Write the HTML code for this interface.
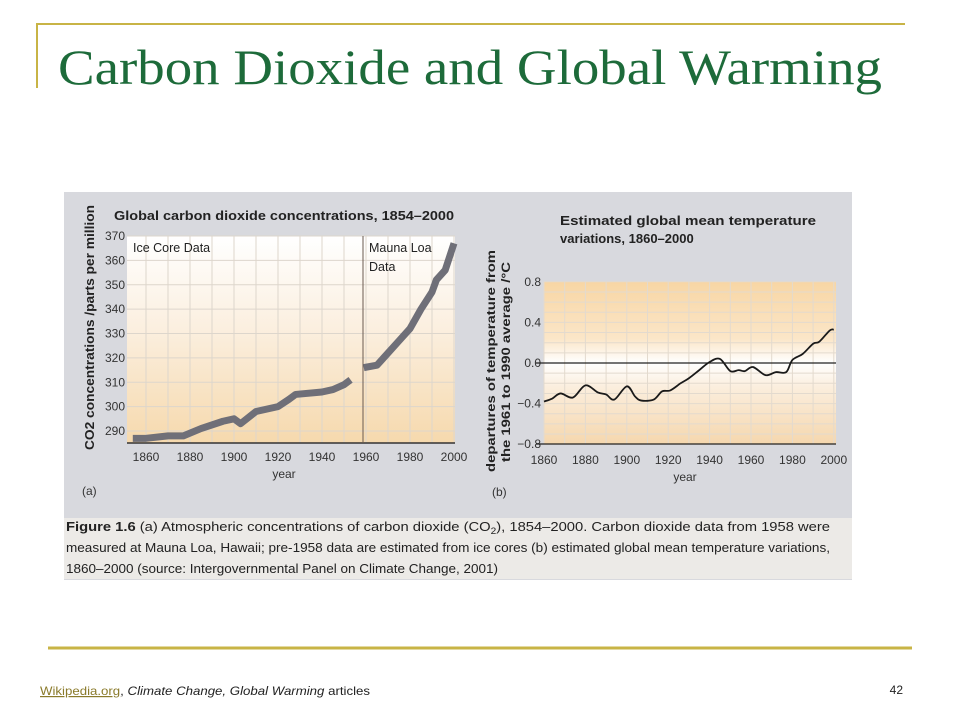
<!DOCTYPE html>
<html><head><meta charset="utf-8"><style>
html,body{margin:0;padding:0;background:#fff;width:960px;height:720px;overflow:hidden}
svg{display:block}
text{font-family:"Liberation Sans",sans-serif}
</style></head><body>
<svg id="s" width="960" height="720" viewBox="0 0 960 720" xmlns="http://www.w3.org/2000/svg">
<defs>
<linearGradient id="ga" x1="0" y1="0" x2="0" y2="1"><stop offset="0" stop-color="#ffffff"/><stop offset="0.45" stop-color="#fbefdf"/><stop offset="1" stop-color="#f6d9ad"/></linearGradient>
<linearGradient id="gb" x1="0" y1="0" x2="0" y2="1"><stop offset="0" stop-color="#f8d6a4"/><stop offset="0.35" stop-color="#fbe6c8"/><stop offset="0.5" stop-color="#ffffff"/><stop offset="0.65" stop-color="#fbeedd"/><stop offset="1" stop-color="#f5d7ae"/></linearGradient>
</defs>
<line x1="36" y1="24" x2="905" y2="24" stroke="#c8b446" stroke-width="2"/>
<line x1="37" y1="24" x2="37" y2="88" stroke="#c8b446" stroke-width="2"/>
<text x="58" y="84" font-size="50" fill="#1d6b3a" textLength="824" lengthAdjust="spacingAndGlyphs" style="font-family:'Liberation Serif',serif">Carbon Dioxide and Global Warming</text>
<rect x="64" y="192" width="788" height="388" fill="#d8d9de"/>
<rect x="64" y="518" width="788" height="61" fill="#eceae7"/>
<g id="ca"></g>
<g id="cb"></g>
<g font-size="13.2" fill="#222">
<text x="66" y="531" textLength="764" lengthAdjust="spacingAndGlyphs"><tspan font-weight="bold">Figure 1.6</tspan> (a) Atmospheric concentrations of carbon dioxide (CO<tspan font-size="9" dy="3">2</tspan><tspan dy="-3">), 1854–2000. Carbon dioxide data from 1958 were</tspan></text>
<text x="66" y="552" textLength="764" lengthAdjust="spacingAndGlyphs">measured at Mauna Loa, Hawaii; pre-1958 data are estimated from ice cores (b) estimated global mean temperature variations,</text>
<text x="66" y="573" textLength="432" lengthAdjust="spacingAndGlyphs">1860–2000 (source: Intergovernmental Panel on Climate Change, 2001)</text>
</g>
<line x1="48" y1="648" x2="912" y2="648" stroke="#c8b446" stroke-width="3"/>
<text x="40" y="695" font-size="12" fill="#222" textLength="330" lengthAdjust="spacingAndGlyphs"><tspan fill="#8a7a2a" text-decoration="underline">Wikipedia.org</tspan>, <tspan font-style="italic">Climate Change, Global Warming</tspan> articles</text>
<text x="903" y="694" font-size="12" fill="#222" text-anchor="end">42</text>
</svg>
<script>
const co2Years=[1854,1860,1870,1877,1885,1895,1900,1903,1910,1920,1925,1928,1940,1945,1950,1953];
const co2Values=[287,287,288,288,291,294,295,293,298,300,303,305,306,307,309,311];
const mlYears=[1959,1965,1970,1975,1980,1985,1990,1992,1996,2000];
const mlValues=[316,317,322,327,332,340,347,352,356,367];
const co2Ticks=[290,300,310,320,330,340,350,360,370];
const yearTicks=[1860,1880,1900,1920,1940,1960,1980,2000];
const tYears=[1860,1864,1868,1874,1880,1886,1890,1894,1900,1904,1907,1913,1917,1921,1926,1930,1935,1940,1945,1950,1954,1957,1961,1967,1972,1977,1980,1985,1990,1993,1998,2000];
const tValues=[-0.38,-0.35,-0.3,-0.34,-0.22,-0.29,-0.31,-0.36,-0.23,-0.33,-0.37,-0.36,-0.28,-0.27,-0.2,-0.15,-0.07,0.01,0.04,-0.08,-0.07,-0.08,-0.04,-0.12,-0.09,-0.09,0.03,0.09,0.19,0.21,0.32,0.33];
const tTicks=[0.8,0.4,0.0,-0.4,-0.8];
const tTickLabels=["0.8","0.4","0.0","\u22120.4","\u22120.8"];
const NS="http://www.w3.org/2000/svg";
function mk(p,tag,at,txt){const e=document.createElementNS(NS,tag);for(const k in at)e.setAttribute(k,at[k]);if(txt!=null)e.textContent=txt;p.appendChild(e);return e;}
// chart a
const A=document.getElementById('ca');
const ax=y=>146+(y-1860)*2.2, ay=v=>431-(v-290)*2.4375;
let e=mk(A,'rect',{x:127,y:236,width:328,height:207,fill:'url(#ga)'});


for(let yr=1860;yr<=2000;yr+=10){e=mk(A,'line',{x1:ax(yr),y1:236,x2:ax(yr),y2:443,stroke:'#ddd6cc','stroke-width':1});

}
for(const v of co2Ticks){e=mk(A,'line',{x1:127,y1:ay(v),x2:455,y2:ay(v),stroke:'#ddd6cc','stroke-width':1});


e=mk(A,'text',{x:125,y:ay(v)+4,'font-size':12,'text-anchor':'end',fill:'#333'},v);

}
e=mk(A,'line',{x1:127,y1:443,x2:455,y2:443,stroke:'#333','stroke-width':1.5});


e=mk(A,'line',{x1:363,y1:236,x2:363,y2:443,stroke:'#6a5a50','stroke-width':1});


for(const yr of yearTicks){e=mk(A,'text',{x:ax(yr),y:461,'font-size':12,'text-anchor':'middle',fill:'#333'},yr);

}
e=mk(A,'polyline',{points:co2Years.map((y,i)=>ax(y)+','+ay(co2Values[i])).join(' '),fill:'none',stroke:'#6f6f78','stroke-width':7,'stroke-linejoin':'round'});


e=mk(A,'polyline',{points:mlYears.map((y,i)=>ax(y)+','+ay(mlValues[i])).join(' '),fill:'none',stroke:'#6f6f78','stroke-width':7,'stroke-linejoin':'round'});


e=mk(A,'text',{x:133,y:252,'font-size':12.5,fill:'#222'},'Ice Core Data');


e=mk(A,'text',{x:369,y:252,'font-size':12.5,fill:'#222'},'Mauna Loa');


mk(A,'text',{x:369,y:271,'font-size':12.5,fill:'#222'},'Data');
e=mk(A,'text',{x:114,y:220,'font-size':13,'font-weight':'bold',fill:'#222',textLength:340,lengthAdjust:'spacingAndGlyphs'},'Global carbon dioxide concentrations, 1854–2000');


e=mk(A,'text',{x:0,y:0,'font-size':12.5,'font-weight':'bold',fill:'#222',transform:'translate(94,450) rotate(-90)',textLength:245,lengthAdjust:'spacingAndGlyphs'},'CO2 concentrations /parts per million');


e=mk(A,'text',{x:284,y:478,'font-size':12,'text-anchor':'middle',fill:'#333'},'year');


mk(A,'text',{x:82,y:495,'font-size':12,fill:'#333'},'(a)');
// chart b
const B=document.getElementById('cb');
const bx=y=>544+(y-1860)*2.07, by=v=>363-v*101.5;
e=mk(B,'rect',{x:544,y:282,width:292,height:162,fill:'url(#gb)'});


for(let yr=1860;yr<=2000;yr+=10){e=mk(B,'line',{x1:bx(yr),y1:282,x2:bx(yr),y2:444,stroke:'#e3dace','stroke-width':1});

}
for(let v=-0.8;v<=0.81;v+=0.1){e=mk(B,'line',{x1:544,y1:by(v),x2:836,y2:by(v),stroke:'#e3dace','stroke-width':1});

}
tTicks.forEach((v,i)=>{e=mk(B,'text',{x:541,y:by(v)+4,'font-size':12,'text-anchor':'end',fill:'#333'},tTickLabels[i]);

});
e=mk(B,'line',{x1:536,y1:by(0),x2:836,y2:by(0),stroke:'#222','stroke-width':1.3});


e=mk(B,'line',{x1:536,y1:444,x2:836,y2:444,stroke:'#222','stroke-width':1.3});


for(const yr of yearTicks){e=mk(B,'text',{x:bx(yr),y:464,'font-size':12,'text-anchor':'middle',fill:'#333'},yr);

}
let d='';const P=tYears.map((y,i)=>[bx(y),by(tValues[i])]);
d='M'+P[0][0]+','+P[0][1];
for(let i=0;i<P.length-1;i++){const p0=P[Math.max(0,i-1)],p1=P[i],p2=P[i+1],p3=P[Math.min(P.length-1,i+2)];
d+=' C'+(p1[0]+(p2[0]-p0[0])/6)+','+(p1[1]+(p2[1]-p0[1])/6)+' '+(p2[0]-(p3[0]-p1[0])/6)+','+(p2[1]-(p3[1]-p1[1])/6)+' '+p2[0]+','+p2[1];}
e=mk(B,'path',{d:d,fill:'none',stroke:'#1a1a1a','stroke-width':1.8});


e=mk(B,'text',{x:560,y:225,'font-size':13,'font-weight':'bold',fill:'#222',textLength:256,lengthAdjust:'spacingAndGlyphs'},'Estimated global mean temperature');


mk(B,'text',{x:560,y:243,'font-size':13,'font-weight':'bold',fill:'#222'},'variations, 1860–2000');
e=mk(B,'text',{x:0,y:0,'font-size':12,'font-weight':'bold',fill:'#222',transform:'translate(495,472) rotate(-90)',textLength:222,lengthAdjust:'spacingAndGlyphs'},'departures of temperature from');


mk(B,'text',{x:0,y:0,'font-size':12,'font-weight':'bold',fill:'#222',transform:'translate(510,462) rotate(-90)',textLength:200,lengthAdjust:'spacingAndGlyphs'},'the 1961 to 1990 average /°C');
e=mk(B,'text',{x:685,y:481,'font-size':12,'text-anchor':'middle',fill:'#333'},'year');


mk(B,'text',{x:492,y:496,'font-size':12,fill:'#333'},'(b)');
</script>
</body></html>
